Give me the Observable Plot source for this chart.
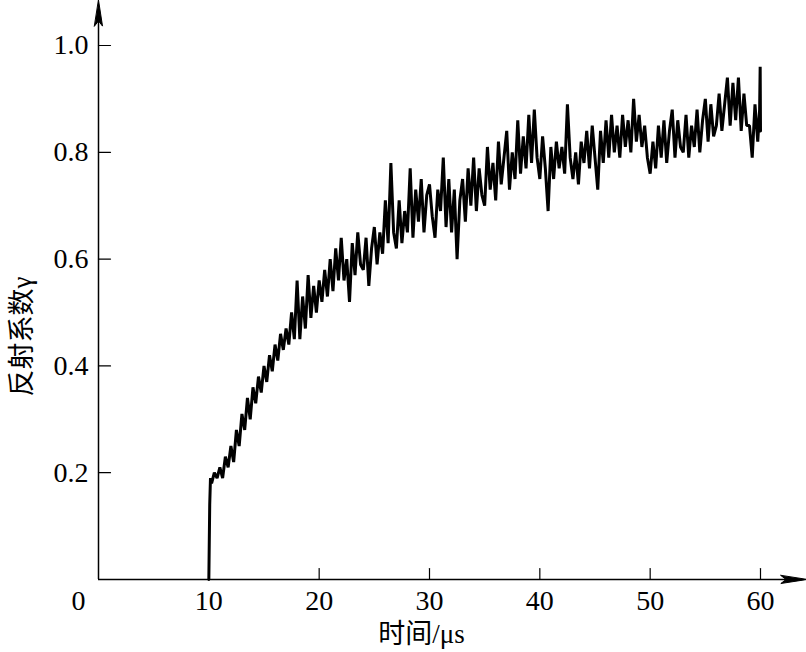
<!DOCTYPE html>
<html>
<head>
<meta charset="utf-8">
<script src="https://cdn.jsdelivr.net/npm/d3@7"></script>
<script src="https://cdn.jsdelivr.net/npm/@observablehq/plot@0.6"></script>
<style>
  html, body { margin: 0; padding: 0; background: white; }
</style>
</head>
<body>
<div id="chart"></div>
<script>
// Leading rise at t = 10 µs
const leadTimes = [10, 10.08, 10.15];
const leadValues = [0, 0.14, 0.19];
// Main trace sampled every 0.25 µs from 10.25 µs to 59.75 µs
const mainStart = 10.25;
const mainStep = 0.25;
const mainValues = [
  0.18, 0.20, 0.19,
  0.21, 0.19, 0.23, 0.21,
  0.25, 0.22, 0.28, 0.25,
  0.31, 0.28, 0.34, 0.30,
  0.36, 0.33, 0.38, 0.35,
  0.40, 0.37, 0.42, 0.39,
  0.44, 0.41, 0.46, 0.43,
  0.47, 0.44, 0.50, 0.45,
  0.56, 0.45, 0.53, 0.47,
  0.57, 0.49, 0.55, 0.50,
  0.56, 0.52, 0.58, 0.53,
  0.60, 0.54, 0.62, 0.56,
  0.64, 0.56, 0.60, 0.52,
  0.63, 0.57, 0.65, 0.59,
  0.58, 0.64, 0.55, 0.62,
  0.66, 0.59, 0.65, 0.61,
  0.71, 0.63, 0.78, 0.65,
  0.62, 0.71, 0.63, 0.69,
  0.65, 0.77, 0.64, 0.73,
  0.67, 0.75, 0.65, 0.72,
  0.74, 0.68, 0.64, 0.73,
  0.69, 0.79, 0.66, 0.75,
  0.65, 0.73, 0.60, 0.71,
  0.75, 0.67, 0.77, 0.70,
  0.79, 0.69, 0.77, 0.72,
  0.70, 0.81, 0.73, 0.78,
  0.71, 0.82, 0.74, 0.79,
  0.84, 0.73, 0.80, 0.75,
  0.86, 0.76, 0.83, 0.77,
  0.87, 0.78, 0.88, 0.79,
  0.75, 0.83, 0.77, 0.69,
  0.81, 0.75, 0.82, 0.77,
  0.81, 0.76, 0.89, 0.79,
  0.75, 0.80, 0.74, 0.82,
  0.78, 0.84, 0.77, 0.85,
  0.79, 0.73, 0.84, 0.78,
  0.86, 0.79, 0.87, 0.80,
  0.85, 0.79, 0.87, 0.81,
  0.86, 0.80, 0.90, 0.82,
  0.87, 0.81, 0.85, 0.79,
  0.76, 0.82, 0.77, 0.85,
  0.79, 0.86, 0.78, 0.84,
  0.88, 0.79, 0.86, 0.81,
  0.80, 0.87, 0.79, 0.85,
  0.81, 0.88, 0.80, 0.86,
  0.90, 0.82, 0.89, 0.83,
  0.85, 0.91, 0.84, 0.89,
  0.94, 0.85, 0.93, 0.86,
  0.94, 0.84, 0.91, 0.85,
  0.85, 0.79, 0.89, 0.82
];
// Final spike at 60 µs
const trailTimes = [59.92, 59.97, 60];
const trailValues = [0.88, 0.96, 0.84];

const xTicks = [10, 20, 30, 40, 50, 60];
const yTicks = [0.2, 0.4, 0.6, 0.8, 1.0];
const xLabel = "时间/μs";
const yLabel = "反射系数γ";
const originLabel = "0";

const data = [];
leadTimes.forEach((t, i) => data.push({t, v: leadValues[i]}));
mainValues.forEach((v, i) => data.push({t: mainStart + i * mainStep, v}));
trailTimes.forEach((t, i) => data.push({t, v: trailValues[i]}));

const tickShape = {draw(ctx, l) { ctx.moveTo(0, 0); ctx.lineTo(0, -l); }};
const headShape = {draw(ctx, l) { ctx.moveTo(0, -l); ctx.lineTo(4, 0); ctx.lineTo(0, -l * 0.2); ctx.lineTo(-4, 0); ctx.closePath(); }};

const font = "'Liberation Serif', 'Times New Roman', 'Noto Sans CJK SC', serif";

const chart = Plot.plot({
  width: 806,
  height: 652,
  marginLeft: 98,
  marginRight: 46,
  marginTop: 45,
  marginBottom: 73,
  x: {domain: [0, 60], axis: null},
  y: {domain: [0, 1], axis: null},
  style: {background: "white", fontFamily: font, color: "black"},
  marks: [
    Plot.ruleX([0], {y1: 0, y2: 1.06, stroke: "black", strokeWidth: 1.5}),
    Plot.ruleY([0], {x1: 0, x2: 63.8, stroke: "black", strokeWidth: 1.5}),
    Plot.vector([{x: 0, y: 1.085}], {x: "x", y: "y", length: 26, rotate: 0, anchor: "end", shape: headShape, fill: "black", stroke: "black", strokeWidth: 1}),
    Plot.vector([{x: 64.2, y: 0}], {x: "x", y: "y", length: 26, rotate: 90, anchor: "end", shape: headShape, fill: "black", stroke: "black", strokeWidth: 1}),
    Plot.vector(xTicks, {x: d => d, y: 0, length: 11, rotate: 0, anchor: "start", shape: tickShape, stroke: "black", strokeWidth: 1.2}),
    Plot.vector(yTicks, {x: 0, y: d => d, length: 12, rotate: 90, anchor: "start", shape: tickShape, stroke: "black", strokeWidth: 1.2}),
    Plot.text(xTicks, {x: d => d, y: 0, text: d => String(d), dy: 22, fontSize: 28, fill: "black"}),
    Plot.text([originLabel], {x: 0, y: 0, text: d => d, dx: -20, dy: 22, fontSize: 28, fill: "black"}),
    Plot.text(yTicks, {x: 0, y: d => d, text: d => d.toFixed(1), dx: -10, textAnchor: "end", fontSize: 28, fill: "black"}),
    Plot.text([xLabel], {frameAnchor: "bottom", text: d => d, textAnchor: "middle", dx: -8, dy: 63, fontSize: 27, fill: "black"}),
    Plot.text([yLabel], {frameAnchor: "left", text: d => d, textAnchor: "middle", rotate: -90, dx: -76, dy: 24, fontSize: 27, fill: "black"}),
    Plot.line(data, {x: "t", y: "v", stroke: "black", strokeWidth: 3, strokeLinejoin: "miter"})
  ]
});
document.getElementById("chart").appendChild(chart);
</script>
</body>
</html>
